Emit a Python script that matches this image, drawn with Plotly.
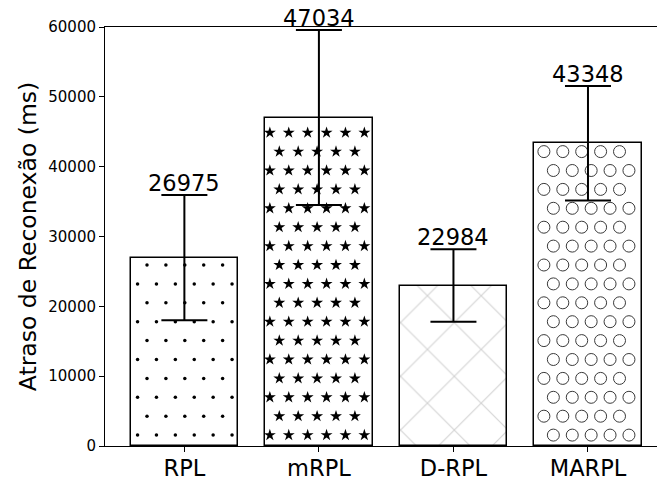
import numpy as np
import plotly.graph_objects as go

# Reconnection delay per protocol (mean and spread, ms)
categories = ["RPL", "mRPL", "D-RPL", "MARPL"]
delay_ms = [26975, 47034, 22984, 43348]
delay_err = [8950, 12530, 5190, 8200]
y_ticks = [0, 10000, 20000, 30000, 40000, 50000, 60000]

# Figure geometry
W, H = 657, 481
ML, MR, MT, MB = 105, 0, 27, 35
PW, PH = W - ML - MR, H - MT - MB
X_RANGE = [-0.59, 3.513]
Y_RANGE = [0, 60000]
BAR_W = 0.8
FONT = "DejaVu Sans"

x_pos = np.arange(len(categories))


def to_px(x, y):
    px = ML + (x - X_RANGE[0]) / (X_RANGE[1] - X_RANGE[0]) * PW
    py = MT + PH - (y - Y_RANGE[0]) / (Y_RANGE[1] - Y_RANGE[0]) * PH
    return px, py


def to_data(px, py):
    x = X_RANGE[0] + (px - ML) / PW * (X_RANGE[1] - X_RANGE[0])
    y = Y_RANGE[0] + (MT + PH - py) / PH * (Y_RANGE[1] - Y_RANGE[0])
    return x, y


# Staggered hatch lattice (pixel space), shared by all bars
STEP = 18.9
LAT_X0, LAT_Y0 = 147.0, 265.0


def hatch_points(i, margin):
    left, top = to_px(x_pos[i] - BAR_W / 2, delay_ms[i])
    right, bottom = to_px(x_pos[i] + BAR_W / 2, 0)
    xs, ys = [], []
    for r in range(-40, 40):
        py = LAT_Y0 + r * STEP
        if py < top + margin or py > bottom - margin:
            continue
        shift = 0.5 * (r % 2)
        for k in range(-40, 60):
            px = LAT_X0 + (k + shift) * STEP
            if left + margin <= px <= right - margin:
                xd, yd = to_data(px, py)
                xs.append(xd)
                ys.append(yd)
    return xs, ys


fig = go.Figure()

# Bars: white fill with black outline; D-RPL gets a light cross-hatch
patterns = ["", "", "x", ""]
fig.add_trace(go.Bar(
    x=x_pos, y=delay_ms, width=BAR_W,
    marker=dict(
        color="white",
        line=dict(color="black", width=1.5),
        pattern=dict(shape=patterns, fgcolor="#a8a8a8", bgcolor="white",
                     size=38, solidity=0.06, fillmode="overlay"),
    ),
    showlegend=False, hoverinfo="skip",
))

# Glyph hatches for the other bars
hatch_styles = {
    0: dict(symbol="circle", size=3.5, color="black", lw=0, margin=1.5),
    1: dict(symbol="star", size=9, color="black", lw=0, margin=3.5),
    3: dict(symbol="circle-open", size=12, color="#3a3a3a", lw=1, margin=4.5),
}
for i, st in hatch_styles.items():
    hx, hy = hatch_points(i, st["margin"])
    fig.add_trace(go.Scatter(
        x=hx, y=hy, mode="markers",
        marker=dict(symbol=st["symbol"], size=st["size"], color=st["color"],
                    line=dict(color=st["color"], width=st["lw"])),
        showlegend=False, hoverinfo="skip",
    ))

# Error bars on top of the hatching
fig.add_trace(go.Scatter(
    x=x_pos, y=delay_ms, mode="markers",
    marker=dict(size=1, color="rgba(0,0,0,0)"),
    error_y=dict(type="data", array=delay_err, visible=True,
                 color="black", thickness=2, width=23),
    showlegend=False, hoverinfo="skip",
))

# Value labels above the error bars
for xi, v, e in zip(x_pos, delay_ms, delay_err):
    fig.add_annotation(
        x=xi, y=v + e, text=str(v), showarrow=False,
        xanchor="center", yanchor="bottom", yshift=-3,
        font=dict(family=FONT, size=22.5, color="black"),
    )

fig.update_layout(
    width=W, height=H,
    margin=dict(l=ML, r=MR, t=MT, b=MB, pad=0),
    paper_bgcolor="white", plot_bgcolor="white",
    font=dict(family=FONT, color="black"),
    bargap=0,
)
fig.update_xaxes(
    range=X_RANGE, tickvals=x_pos, ticktext=categories,
    automargin=False,
    showgrid=False, zeroline=False,
    showline=True, linecolor="black", linewidth=1, mirror=True,
    ticks="outside", ticklen=5, tickwidth=1, tickcolor="black",
    ticklabelstandoff=-3,
    tickfont=dict(family=FONT, size=22.5, color="black"),
)
fig.update_yaxes(
    range=Y_RANGE, tickvals=y_ticks, tickformat="d",
    automargin=False,
    showgrid=False, zeroline=False,
    showline=True, linecolor="black", linewidth=1, mirror=False,
    ticks="outside", ticklen=5, tickwidth=1, tickcolor="black",
    tickfont=dict(family=FONT, size=15, color="black"),
    title=dict(text="Atraso de Reconexão (ms)",
               font=dict(family=FONT, size=23.5, color="black"), standoff=5),
)

fig.write_html("out.html")
